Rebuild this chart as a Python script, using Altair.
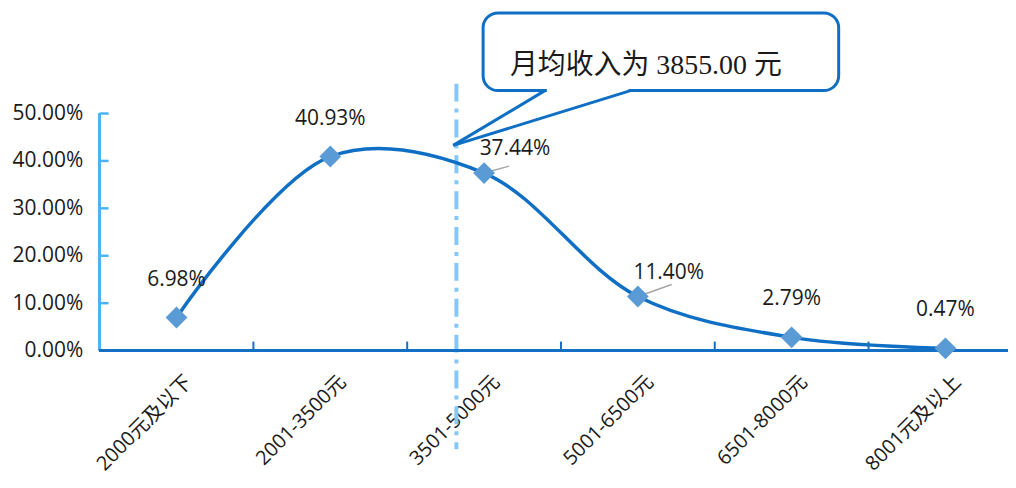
import altair as alt
import pandas as pd

categories = ["2000元及以下", "2001-3500元", "3501-5000元", "5001-6500元", "6501-8000元", "8001元及以上"]
shares = [0.0698, 0.4093, 0.3744, 0.1140, 0.0279, 0.0047]
share_labels = ["6.98%", "40.93%", "37.44%", "11.40%", "2.79%", "0.47%"]
y_ticks = [0.0, 0.1, 0.2, 0.3, 0.4, 0.5]
mean_income = 3855.00
mean_position = 1.82  # position of the mean line, in category units
callout_text = f"月均收入为 {mean_income:.2f} 元"

W, H = 912, 238
X_DOMAIN = [-0.5, 5.407]

df = pd.DataFrame({"idx": list(range(len(categories))), "cat": categories,
                   "share": shares, "label": share_labels})
bounds = pd.DataFrame({"b": [i + 0.5 for i in range(len(categories) - 1)]})
yt = pd.DataFrame({"v": y_ticks})

label_expr = "[" + ",".join(f"'{c}'" for c in categories) + "][datum.value]"

xs = alt.Scale(domain=X_DOMAIN, nice=False, zero=False)
ys = alt.Scale(domain=[0, 0.5], nice=False)

x_enc = alt.X("idx:Q", scale=xs,
              axis=alt.Axis(values=list(range(len(categories))), labelExpr=label_expr,
                            labelAngle=-45, labelAlign="right", labelBaseline="middle",
                            labelPadding=28, labelOffset=12, ticks=False, tickSize=0,
                            domain=False, grid=False, title=None, labelFontSize=20,
                            labelFont="Open Sans, Noto Sans CJK SC", labelColor="#1a1a1a",
                            labelOverlap=False, labelBound=False, labelFlush=False))
y_enc = alt.Y("share:Q", scale=ys,
              axis=alt.Axis(values=y_ticks, format=".2%", ticks=False, tickSize=0,
                            domain=False, grid=False, title=None, labelPadding=17,
                            labelFontSize=21, labelFont="Open Sans", labelColor="#1a1a1a"))

base = alt.Chart(df)

line = base.mark_line(interpolate="catmull-rom", color="#0f6fc4", strokeWidth=3.5).encode(x=x_enc, y=y_enc)
pts = base.mark_point(shape="diamond", size=480, filled=True, color="#5b9bd5", opacity=1).encode(
    x=alt.X("idx:Q", scale=xs), y=alt.Y("share:Q", scale=ys))

lab_center = base.transform_filter("datum.idx != 2 && datum.idx != 3").mark_text(
    dy=-38, fontSize=21, font="Open Sans", color="#1a1a1a").encode(
    x=alt.X("idx:Q", scale=xs), y=alt.Y("share:Q", scale=ys), text="label:N")
lab_right = base.transform_filter("datum.idx == 2 || datum.idx == 3").mark_text(
    dx=31, dy=-24, fontSize=21, font="Open Sans", color="#1a1a1a").encode(
    x=alt.X("idx:Q", scale=xs), y=alt.Y("share:Q", scale=ys), text="label:N")
leader2 = base.transform_filter("datum.idx == 2").mark_rule(
    color="#a6a6a6", strokeWidth=1.5, x2Offset=25, y2Offset=-7).encode(
    x=alt.X("idx:Q", scale=xs), y=alt.Y("share:Q", scale=ys), x2="idx:Q", y2="share:Q")
leader3 = base.transform_filter("datum.idx == 3").mark_rule(
    color="#a6a6a6", strokeWidth=1.5, x2Offset=34, y2Offset=-12).encode(
    x=alt.X("idx:Q", scale=xs), y=alt.Y("share:Q", scale=ys), x2="idx:Q", y2="share:Q")

# axes drawn by hand
top_clean = alt.Chart(yt).mark_rule(color="white", strokeWidth=3).encode(
    y=alt.value(0), x=alt.value(11), x2=alt.value(W + 10))
y_axis_line = alt.Chart(yt).mark_rule(color="#4db3f5", strokeWidth=2.5).encode(
    x=alt.value(0), y=alt.value(0), y2=alt.value(H))
y_axis_ticks = alt.Chart(yt).mark_rule(color="#4db3f5", strokeWidth=2.5).encode(
    y=alt.Y("v:Q", scale=ys), x=alt.value(0), x2=alt.value(9))
x_axis_line = alt.Chart(yt).mark_rule(color="#1370c4", strokeWidth=3).encode(
    y=alt.value(H), x=alt.value(0), x2=alt.value(W + 10))
x_axis_ticks = alt.Chart(bounds).mark_rule(color="#1370c4", strokeWidth=2).encode(
    x=alt.X("b:Q", scale=xs), y=alt.value(H), y2=alt.value(H - 9))

mean_df = pd.DataFrame({"m": [mean_position]})
mean_line = alt.Chart(mean_df).mark_rule(color="#85c8f8", strokeWidth=4, strokeDash=[18, 7, 4, 7]).encode(
    x=alt.X("m:Q", scale=xs), y=alt.value(-30), y2=alt.value(337))

# callout
ann = pd.DataFrame({"t": [callout_text]})
box = alt.Chart(ann).mark_rect(fill="white", stroke="#0f6fc4", strokeWidth=3, cornerRadius=15).encode(
    x=alt.value(385), x2=alt.value(742), y=alt.value(-101), y2=alt.value(-23))
erase = alt.Chart(ann).mark_rule(color="white", strokeWidth=6).encode(
    x=alt.value(449), x2=alt.value(531), y=alt.value(-23))
side1 = alt.Chart(ann).mark_rule(color="#0f6fc4", strokeWidth=3).encode(
    x=alt.value(447), y=alt.value(-23), x2=alt.value(355), y2=alt.value(32))
side2 = alt.Chart(ann).mark_rule(color="#0f6fc4", strokeWidth=3).encode(
    x=alt.value(533), y=alt.value(-23), x2=alt.value(355), y2=alt.value(32))
box_text = alt.Chart(ann).mark_text(align="left", baseline="middle", fontSize=28,
                                    font="Liberation Serif, Noto Sans CJK SC", color="#1a1a1a").encode(
    x=alt.value(412), y=alt.value(-48), text="t:N")

chart = alt.layer(
    top_clean, y_axis_line, y_axis_ticks, mean_line, line, x_axis_line, x_axis_ticks,
    leader2, leader3, pts, lab_center, lab_right,
    box, erase, side1, side2, box_text
).properties(
    width=W, height=H,
    autosize=alt.AutoSizeParams(type="none"),
    padding={"left": 92, "top": 105, "right": 0, "bottom": 129},
).configure_view(stroke="transparent", strokeWidth=0).configure_axis(
    grid=False, domain=False, ticks=False
).configure(background="white")

chart.save("out.html", embed_options={"renderer": "svg", "actions": False})
